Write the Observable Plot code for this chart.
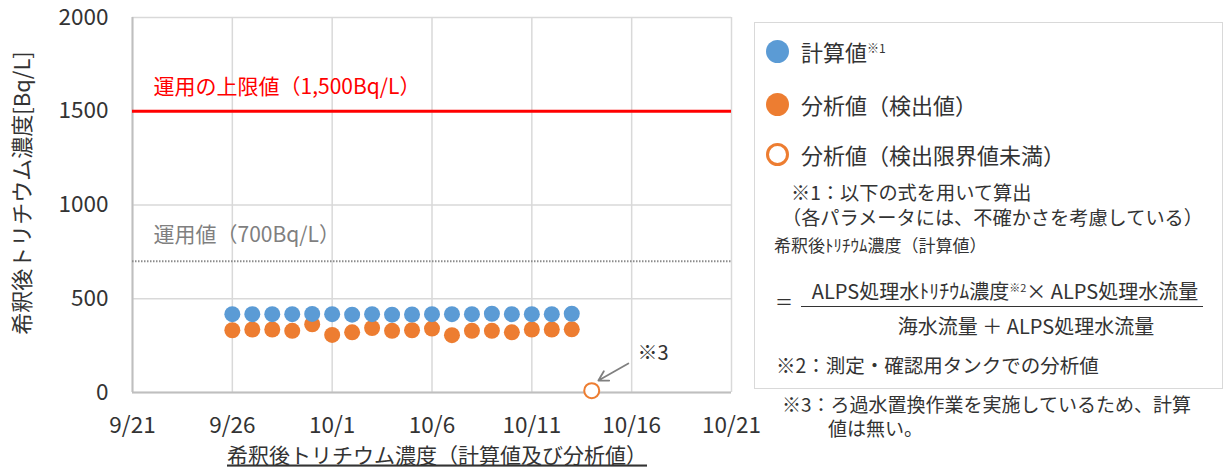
<!DOCTYPE html>
<html>
<head>
<meta charset="utf-8">
<script src="https://cdn.jsdelivr.net/npm/d3@7"></script>
<script src="https://cdn.jsdelivr.net/npm/@observablehq/plot@0.6"></script>
<style>
  html, body { margin: 0; padding: 0; background: #fff; }
  #wrap { position: relative; width: 1232px; height: 473px; font-family: 'Noto Sans CJK JP', 'Noto Sans', sans-serif; color: #333; }
  .t { position: absolute; white-space: nowrap; }
  .b { position: absolute; white-space: pre; }
  #legend { position: absolute; left: 754px; top: 22px; width: 469px; height: 367px; border: 1.5px solid #d9d9d9; box-sizing: border-box; }
  sup.s { font-size: 12px; vertical-align: 0; position: relative; top: -8px; line-height: 0; }
</style>
</head>
<body>
<div id="wrap">
  <div id="chart"></div>
  <div id="legend"></div>
</div>
<script>
// ---- data ----
const dates = ["2024-09-26","2024-09-27","2024-09-28","2024-09-29","2024-09-30","2024-10-01","2024-10-02","2024-10-03","2024-10-04","2024-10-05","2024-10-06","2024-10-07","2024-10-08","2024-10-09","2024-10-10","2024-10-11","2024-10-12","2024-10-13"];
const calcValues = [418,418,418,418,419,418,415,418,415,416,418,418,418,420,418,418,418,420];
const detectedValues = [332,336,336,329,364,307,321,344,329,332,341,306,329,329,321,336,336,337];
const undetectedDates = ["2024-10-14"];
const undetectedValues = [10];
const xTickDates = ["2024-09-21","2024-09-26","2024-10-01","2024-10-06","2024-10-11","2024-10-16","2024-10-21"];
const yTicks = [0, 500, 1000, 1500, 2000];
const limitValue = 1500;
const operationalValue = 700;
const refLabels = [
  {label: "運用の上限値（1,500Bq/L）", value: 1627, color: "#ff0000"},
  {label: "運用値（700Bq/L）", value: 837, color: "#7f7f7f"}
];
const note3Arrow = [{x1: "2024-10-15T20:00Z", y1: 155, x2: "2024-10-14T08:00Z", y2: 64}];
const note3Label = [{date: "2024-10-16T07:00Z", value: 208, text: "※3"}];
const yLabel = "希釈後トリチウム濃度[Bq/L]";
const xTitle = "希釈後トリチウム濃度（計算値及び分析値）";
const seriesNames = ["計算値", "分析値（検出値）", "分析値（検出限界値未満）"];
const colors = {calc: "#5b9bd5", analysis: "#ed7d31"};

// ---- build ----
const P = s => new Date(s.length <= 10 ? s + "T00:00Z" : s);
const calc = dates.map((d, i) => ({date: P(d), value: calcValues[i]}));
const detected = dates.map((d, i) => ({date: P(d), value: detectedValues[i]}));
const undetected = undetectedDates.map((d, i) => ({date: P(d), value: undetectedValues[i]}));
const xTicks = xTickDates.map(P);
const arrows = note3Arrow.map(a => ({x1: P(a.x1), y1: a.y1, x2: P(a.x2), y2: a.y2}));
const n3 = note3Label.map(a => ({date: P(a.date), value: a.value, text: a.text}));

const chart = Plot.plot({
  width: 1232, height: 473,
  marginLeft: 132, marginRight: 501, marginTop: 17, marginBottom: 81,
  style: {fontFamily: "'Noto Sans CJK JP', sans-serif", fontSize: "22.5px", color: "#333", background: "transparent", overflow: "visible"},
  x: {type: "utc", domain: [xTicks[0], xTicks[xTicks.length - 1]], ticks: xTicks,
      tickFormat: d => `${d.getUTCMonth() + 1}/${d.getUTCDate()}`, tickSize: 0, tickPadding: 25, label: null},
  y: {domain: [0, 2000], ticks: yTicks, tickFormat: d => String(d), tickSize: 0, tickPadding: 24, label: null},
  marks: [
    Plot.gridX(xTicks, {stroke: "#d9d9d9", strokeOpacity: 1, strokeWidth: 1.5}),
    Plot.gridY(yTicks, {stroke: "#d9d9d9", strokeOpacity: 1, strokeWidth: 1.5}),
    Plot.ruleX([xTicks[0]], {stroke: "#bfbfbf", strokeWidth: 2}),
    Plot.ruleY([0], {stroke: "#bfbfbf", strokeWidth: 2}),
    Plot.ruleY([limitValue], {stroke: "#ff0000", strokeWidth: 3}),
    Plot.ruleY([operationalValue], {stroke: "#8c8c8c", strokeWidth: 2, strokeDasharray: "1.5,1.5"}),
    Plot.text(refLabels, {frameAnchor: "left", y: "value", text: "label", fill: "color", textAnchor: "start", dx: 21, fontSize: 21}),
    Plot.dot(detected, {x: "date", y: "value", r: 8, fill: colors.analysis}),
    Plot.dot(calc, {x: "date", y: "value", r: 8, fill: colors.calc}),
    Plot.dot(undetected, {x: "date", y: "value", r: 7.5, stroke: colors.analysis, strokeWidth: 2, fill: "white"}),
    Plot.arrow(arrows, {x1: "x1", y1: "y1", x2: "x2", y2: "y2", stroke: "#808080", strokeWidth: 1.8, headLength: 9, bend: 0}),
    Plot.text(n3, {x: "date", y: "value", text: "text", textAnchor: "start", fontSize: 20, fill: "#333"}),
    Plot.text([yLabel], {frameAnchor: "left", textAnchor: "middle", rotate: -90, dx: -110, dy: -12, fontSize: 22, fill: "#333"}),
    Plot.text([xTitle], {frameAnchor: "bottom", textAnchor: "middle", dx: 5, dy: 70, fontSize: 21, fill: "#333"})
  ]
});
document.getElementById("chart").appendChild(chart);
d3.select(chart).selectAll("text").filter(function() { return this.textContent === xTitle; })
  .style("text-decoration", "underline");

// ---- legend ----
const lg = document.getElementById("legend");
function txt(parent, html, x, cy, size, opts = {}) {
  const el = document.createElement("div");
  el.className = "t";
  const h = Math.round(size * 1.1);
  el.style.left = x + "px";
  el.style.top = (cy - h / 2) + "px";
  el.style.height = h + "px";
  el.style.lineHeight = h + "px";
  el.style.fontSize = size + "px";
  if (opts.center) el.style.transform = "translateX(-50%)";
  el.innerHTML = html;
  parent.appendChild(el);
  return el;
}
// two-line text block: first line starts at x, following lines at x + shift
function block(parent, text, x, firstCy, size, lh, shift) {
  const el = document.createElement("div");
  el.className = "b";
  el.style.top = (firstCy - lh / 2) + "px";
  el.style.lineHeight = lh + "px";
  el.style.fontSize = size + "px";
  if (shift >= 0) {
    el.style.left = x + "px";
    el.style.paddingLeft = shift + "px";
    el.style.textIndent = (-shift) + "px";
  } else {
    el.style.left = (x + shift) + "px";
    el.style.textIndent = (-shift) + "px";
  }
  el.textContent = text;
  parent.appendChild(el);
  return el;
}
function swatch(parent, cx, cy, r, fill, stroke, sw) {
  const ns = "http://www.w3.org/2000/svg";
  const svg = document.createElementNS(ns, "svg");
  svg.setAttribute("width", 2 * r + 4); svg.setAttribute("height", 2 * r + 4);
  svg.style.position = "absolute";
  svg.style.left = (cx - r - 2) + "px"; svg.style.top = (cy - r - 2) + "px";
  const c = document.createElementNS(ns, "circle");
  c.setAttribute("cx", r + 2); c.setAttribute("cy", r + 2); c.setAttribute("r", r - (sw || 0) / 2);
  c.setAttribute("fill", fill); if (stroke) { c.setAttribute("stroke", stroke); c.setAttribute("stroke-width", sw); }
  svg.appendChild(c); parent.appendChild(svg);
}
swatch(lg, 22, 28, 11.5, colors.calc);
swatch(lg, 22, 81, 11.5, colors.analysis);
swatch(lg, 22, 131, 11.5, "white", colors.analysis, 3);
txt(lg, seriesNames[0] + '<sup class="s">※1</sup>', 46, 28, 22);
txt(lg, seriesNames[1], 46, 81, 22);
txt(lg, seriesNames[2], 46, 131, 22);
block(lg, "※1：以下の式を用いて算出\n（各パラメータには、不確かさを考慮している）", 36, 169, 19.2, 25, -9);
txt(lg, "希釈後ﾄﾘﾁｳﾑ濃度（計算値）", 19, 221, 17);
txt(lg, "＝", 20, 278, 18);
const fl = document.createElement("div");
fl.style.cssText = "position:absolute;left:46px;top:283px;width:402px;height:0;border-top:1.5px solid #333;";
lg.appendChild(fl);
txt(lg, 'ALPS処理水ﾄﾘﾁｳﾑ濃度<sup class="s" style="font-size:11px;top:-7px">※2</sup>× ALPS処理水流量', 250, 268, 20, {center: true});
txt(lg, "海水流量 ＋ ALPS処理水流量", 271, 303, 20, {center: true});
txt(lg, "※2：測定・確認用タンクでの分析値", 21, 341, 19.5);
const wrap = document.getElementById("wrap");
block(wrap, "※3：ろ過水置換作業を実施しているため、計算\n値は無い。", 782, 404, 19, 24, 46);
</script>
</body>
</html>
